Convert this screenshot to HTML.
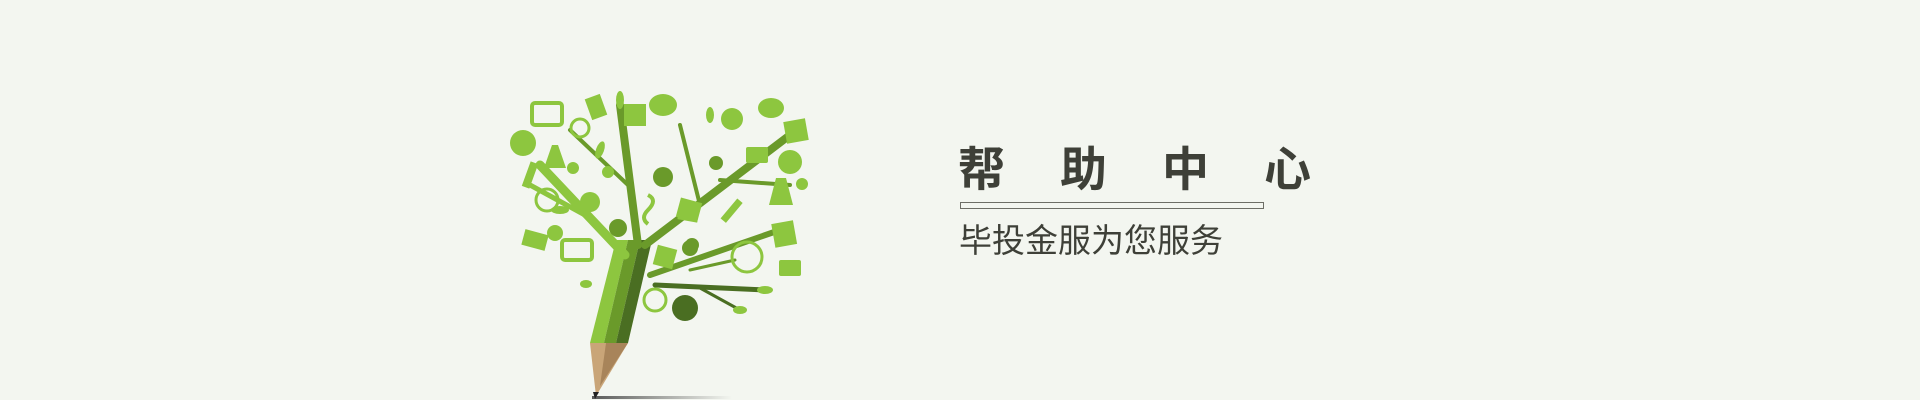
<!DOCTYPE html>
<html><head><meta charset="utf-8">
<style>
html,body{margin:0;padding:0;}
body{width:1920px;height:400px;background:#f3f6f0;position:relative;overflow:hidden;font-family:"Liberation Sans","Noto Sans CJK SC",sans-serif;}
#title{position:absolute;left:958px;top:140px;font-size:47px;font-weight:bold;color:#3e4038;letter-spacing:55px;line-height:60px;white-space:nowrap;}
#rule{position:absolute;left:960px;top:202px;width:302px;height:5px;border:1px solid #6d6e66;box-sizing:content-box;}
#sub{position:absolute;left:959px;top:221px;font-size:33px;color:#3e4038;line-height:40px;white-space:nowrap;}
svg{position:absolute;left:0;top:0;}
</style></head><body>
<svg width="1920" height="400">
<defs><linearGradient id="sh" x1="0" x2="1"><stop offset="0" stop-color="#333" stop-opacity="0.8"/><stop offset="1" stop-color="#333" stop-opacity="0"/></linearGradient></defs>
<g>
<rect x="592" y="396" width="140" height="3" fill="url(#sh)"/>
<polygon points="590,343 628,343 596,396" fill="#c9a578"/>
<polygon points="606,343 628,343 600,386" fill="#a8845a"/>
<polygon points="593,392 599,392 595,399" fill="#222"/>
<polygon points="590,343 604,343 628,240 616,240" fill="#8dc63f"/>
<polygon points="604,343 616,343 640,240 628,240" fill="#6a9a2a"/>
<polygon points="616,343 628,343 652,240 640,240" fill="#4a6e22"/>
</g>
<g stroke-linecap="round" fill="none">
<path d="M625,255 L540,165" stroke="#8dc63f" stroke-width="9"/>
<path d="M585,215 L530,185" stroke="#8dc63f" stroke-width="5"/>
<path d="M638,245 L620,105" stroke="#6a9a2a" stroke-width="8"/>
<path d="M628,185 L570,130" stroke="#6a9a2a" stroke-width="4"/>
<path d="M645,245 L790,135" stroke="#6a9a2a" stroke-width="8"/>
<path d="M700,205 L680,125" stroke="#6a9a2a" stroke-width="4"/>
<path d="M720,180 L790,185" stroke="#6a9a2a" stroke-width="4"/>
<path d="M650,275 L780,230" stroke="#6a9a2a" stroke-width="6"/>
<path d="M655,285 L765,290" stroke="#4a6e22" stroke-width="5"/>
<path d="M700,288 L740,310" stroke="#4a6e22" stroke-width="3"/>
<path d="M690,270 L735,260" stroke="#6a9a2a" stroke-width="3"/>
</g>
<g fill="#8dc63f">
<circle cx="523" cy="143" r="13"/>
<rect x="532" y="103" width="30" height="22" rx="3" fill="none" stroke="#8dc63f" stroke-width="4"/>
<rect x="588" y="96" width="16" height="22" transform="rotate(-20 596 107)"/>
<circle cx="580" cy="128" r="9" fill="none" stroke="#8dc63f" stroke-width="3"/>
<rect x="624" y="104" width="22" height="22" fill="#8dc63f"/>
<ellipse cx="663" cy="105" rx="14" ry="11"/>
<polygon points="552,145 558,145 566,168 544,168"/>
<circle cx="573" cy="168" r="6"/><circle cx="608" cy="172" r="6"/>
<rect x="526" y="162" width="8" height="26" transform="rotate(20 530 175)"/>
<circle cx="547" cy="200" r="11" fill="none" stroke="#8dc63f" stroke-width="3"/>
<circle cx="590" cy="202" r="10"/>
<circle cx="618" cy="228" r="9" fill="#6a9a2a"/>
<circle cx="663" cy="177" r="10" fill="#6a9a2a"/>
<rect x="523" y="232" width="24" height="16" transform="rotate(15 535 240)"/>
<circle cx="555" cy="233" r="8"/>
<rect x="562" y="240" width="30" height="20" rx="3" fill="none" stroke="#8dc63f" stroke-width="4"/>
<ellipse cx="586" cy="284" rx="6" ry="4"/>
<path d="M648,195 q10,5 0,15 q-8,8 0,14" stroke="#8dc63f" stroke-width="4" fill="none"/>
<rect x="678" y="200" width="22" height="20" transform="rotate(15 689 210)"/>
<rect x="655" y="247" width="20" height="20" transform="rotate(15 665 257)"/>
<circle cx="690" cy="248" r="8" fill="#6a9a2a"/>
<circle cx="655" cy="300" r="11" fill="none" stroke="#8dc63f" stroke-width="3"/>
<circle cx="685" cy="308" r="13" fill="#4a6e22"/>
<circle cx="732" cy="119" r="11"/>
<ellipse cx="771" cy="108" rx="13" ry="10"/>
<rect x="785" y="120" width="22" height="22" transform="rotate(-10 796 131)"/>
<circle cx="790" cy="162" r="12"/>
<rect x="746" y="147" width="22" height="16" rx="2"/>
<circle cx="802" cy="184" r="6"/>
<polygon points="776,178 786,178 793,205 769,205"/>
<rect x="773" y="222" width="22" height="24" transform="rotate(-10 784 233)"/>
<circle cx="747" cy="257" r="15" fill="none" stroke="#8dc63f" stroke-width="3"/>
<rect x="779" y="260" width="22" height="16" rx="2"/>
<rect x="728" y="198" width="7" height="26" transform="rotate(40 732 211)"/>
<rect x="679" y="201" width="20" height="20" transform="rotate(10 689 211)"/>
<circle cx="716" cy="163" r="7" fill="#6a9a2a"/>
<circle cx="692" cy="245" r="7" fill="#6a9a2a"/>
<ellipse cx="600" cy="150" rx="4" ry="9" transform="rotate(20 600 150)"/>
<ellipse cx="620" cy="100" rx="4" ry="9"/>
<ellipse cx="560" cy="210" rx="9" ry="4"/>
<ellipse cx="710" cy="115" rx="4" ry="8"/>
<ellipse cx="765" cy="290" rx="8" ry="4"/>
<ellipse cx="740" cy="310" rx="7" ry="4"/>
</g>
</svg>
<div id="title">帮助中心</div>
<div id="rule"></div>
<div id="sub">毕投金服为您服务</div>
</body></html>
